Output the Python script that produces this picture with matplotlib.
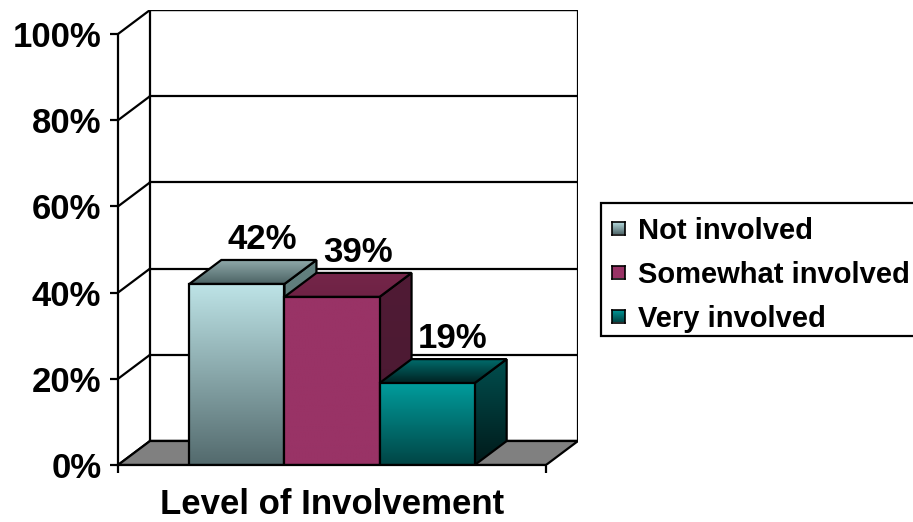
import numpy as np
import matplotlib
matplotlib.use("Agg")
import matplotlib.pyplot as plt
from matplotlib.patches import Polygon, Rectangle
from matplotlib.colors import to_rgb

plt.rcParams['font.family'] = ['Liberation Sans', 'DejaVu Sans']
plt.rcParams['font.weight'] = 'bold'

# ---- data ----
categories = ['Not involved', 'Somewhat involved', 'Very involved']
values = [42, 39, 19]
value_labels = ['42%', '39%', '19%']
y_ticks = [0, 20, 40, 60, 80, 100]
y_tick_labels = ['0%', '20%', '40%', '60%', '80%', '100%']
axis_title = 'Level of Involvement'

# ---- styles: (front top, front bottom, top back, top front, side top, side bottom)
styles = [
    ('#BEE4E7', '#536A6D', '#8FA9AA', '#4B6263', '#62807F', '#56706F'),
    ('#993366', '#993366', '#752649', '#6E2245', '#501B35', '#4A1931'),
    ('#009C9C', '#004545', '#006C6C', '#002222', '#004E4E', '#001A1A'),
]
legend_cols = [('#BEE4E7', '#536A6D'), ('#993366', '#993366'), ('#009C9C', '#004545')]

W, H = 913, 522
fig = plt.figure(figsize=(W / 100, H / 100), dpi=100)

# pixel geometry of the front plane / depth
x_left, x_front_right, x_back_right = 118, 546, 578
y_zero, y_hundred, y_top_back = 465, 34, 10
px_x = x_front_right - x_left            # px per category unit
px_y = (y_zero - y_hundred) / 100.0      # px per percent
dx = (x_back_right - x_front_right) / px_x
dy = (y_hundred - y_top_back) / px_y

ax = fig.add_axes([x_left / W, (H - y_zero) / H,
                   (x_back_right - x_left) / W, (y_zero - y_top_back) / H])
ax.set_xlim(0, 1 + dx)
ax.set_ylim(0, 100 + dy)
ax.set_facecolor('none')

LW = 1.6

def grad_poly(verts, c_top, c_bot, z):
    verts = np.asarray(verts, float)
    x0, x1 = verts[:, 0].min(), verts[:, 0].max()
    y0, y1 = verts[:, 1].min(), verts[:, 1].max()
    n = 128
    t = np.linspace(0, 1, n)[:, None]
    ct, cb = np.array(to_rgb(c_top)), np.array(to_rgb(c_bot))
    img = (cb[None, :] * (1 - t) + ct[None, :] * t)[:, None, :]
    poly = Polygon(verts, closed=True, facecolor='none', edgecolor='black',
                   lw=LW, zorder=z + 0.5, joinstyle='miter')
    ax.add_patch(poly)
    im = ax.imshow(img, extent=(x0, x1, y0, y1), origin='lower',
                   aspect='auto', interpolation='bilinear', zorder=z)
    im.set_clip_path(poly)
    return poly

# back wall
ax.add_patch(Polygon([(dx, dy), (1 + dx, dy), (1 + dx, 100 + dy), (dx, 100 + dy)],
                     closed=True, facecolor='white', edgecolor='black', lw=LW, zorder=1))
# gridlines on back wall and left wall
for yt in y_ticks:
    ax.plot([dx, 1 + dx], [yt + dy, yt + dy], color='black', lw=LW, zorder=2)
    ax.plot([0, dx], [yt, yt + dy], color='black', lw=LW, zorder=2,
            solid_capstyle='butt')
# floor
ax.add_patch(Polygon([(0, 0), (1, 0), (1 + dx, dy), (dx, dy)], closed=True,
                     facecolor='#808080', edgecolor='black', lw=LW, zorder=3,
                     joinstyle='miter'))

# bars
n = len(values)
gap = 1.5
bw = 1.0 / (n + gap)
start = gap * bw / 2
z = 10
for i, (v, st) in enumerate(zip(values, styles)):
    xl = start + i * bw
    xr = xl + bw
    # side face
    grad_poly([(xr, 0), (xr + dx, dy), (xr + dx, v + dy), (xr, v)], st[4], st[5], z)
    # top face
    grad_poly([(xl, v), (xr, v), (xr + dx, v + dy), (xl + dx, v + dy)], st[2], st[3], z + 1)
    # front face
    grad_poly([(xl, 0), (xr, 0), (xr, v), (xl, v)], st[0], st[1], z + 2)
    z += 3
    # label
    ax.text((xl + xr) / 2 + 0.8 * dx, v + dy + 2.6, value_labels[i],
            ha='center', va='baseline', fontsize=25, fontweight='bold', zorder=50)

# axes spines / ticks
for s in ['top', 'right']:
    ax.spines[s].set_visible(False)
ax.spines['left'].set_bounds(0, 100)
ax.spines['bottom'].set_bounds(0, 1)
ax.spines['left'].set_linewidth(LW)
ax.spines['bottom'].set_linewidth(LW)
ax.spines['left'].set_zorder(60)
ax.spines['bottom'].set_zorder(60)
ax.set_yticks(y_ticks)
ax.set_yticklabels(y_tick_labels, fontsize=25, fontweight='bold')
ax.set_xticks([0, 1])
ax.set_xticklabels([])
ax.tick_params(axis='both', direction='out', length=6, width=LW, pad=6)

# axis title
fig.text((x_left + px_x / 2) / W, (H - 514) / H, axis_title, ha='center',
         va='baseline', fontsize=25, fontweight='bold')

# legend
fig.add_artist(Rectangle((601 / W, (H - 336) / H), 400 / W, 133 / H,
                         transform=fig.transFigure, facecolor='white',
                         edgecolor='black', lw=LW, zorder=0.5))
row_y = [228, 272, 316]
for lab, (ct, cb), yy in zip(categories, legend_cols, row_y):
    sw = fig.add_axes([612 / W, (H - yy - 6.5) / H, 13 / W, 13 / H])
    sw.set_zorder(5)
    t = np.linspace(0, 1, 32)[:, None]
    img = (np.array(to_rgb(cb))[None, :] * (1 - t) + np.array(to_rgb(ct))[None, :] * t)[:, None, :]
    sw.imshow(img, origin='lower', aspect='auto', extent=(0, 1, 0, 1))
    sw.set_xticks([]); sw.set_yticks([])
    for s in sw.spines.values():
        s.set_linewidth(1.2)
    fig.text(638 / W, (H - yy) / H, lab, ha='left', va='center_baseline',
             fontsize=21, fontweight='bold', zorder=6)

fig.savefig('out.png', dpi=100)
